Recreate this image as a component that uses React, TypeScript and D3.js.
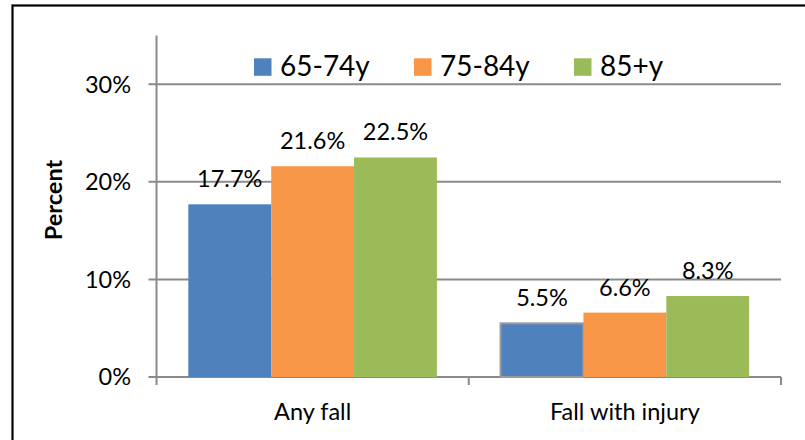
import React from "react";
import * as d3 from "d3";

const categories = ["Any fall", "Fall with injury"];
const seriesNames = ["65-74y", "75-84y", "85+y"];
const seriesColors = ["#4F81BD", "#F79646", "#9BBB59"];
const values65 = [0.177, 0.055];
const values75 = [0.216, 0.066];
const values85 = [0.225, 0.083];
const yTicks = [0, 0.1, 0.2, 0.3];
const yMax = 0.35;

const seriesValues = [values65, values75, values85];

const W = 805;
const H = 440;
const FONT = "Lato, 'Open Sans', sans-serif";

export default function App() {
  const plotLeft = 156.5;
  const plotRight = 781;
  const plotBottom = 377;
  const plotTop = 35.5;

  const x0 = d3.scaleBand<string>().domain(categories).range([plotLeft, plotRight]).padding(0);
  const x1 = d3
    .scaleBand<string>()
    .domain(seriesNames)
    .range([0, x0.bandwidth()])
    .paddingInner(0)
    .paddingOuter(0.384);
  const y = d3.scaleLinear().domain([0, yMax]).range([plotBottom, plotTop]);

  const fmt = d3.format(".0%");
  const fmtLabel = d3.format(".1%");
  const gridColor = "#8a8a8a";

  const legendStart = 254;
  const legendStep = 160;

  return (
    <div style={{ position: "fixed", left: 0, top: 0, width: W, height: H, background: "#fff" }}>
      <svg width={W} height={H} style={{ display: "block" }}>
        <rect x={0} y={0} width={W} height={H} fill="#fff" />
        {/* outer frame */}
        <rect x={12.5} y={5.5} width={W + 20} height={H + 20} fill="none" stroke="#000" strokeWidth={2.2} />

        {/* gridlines */}
        {yTicks.map((t) => (
          <line
            key={"g" + t}
            x1={plotLeft - 8}
            x2={plotRight}
            y1={y(t)}
            y2={y(t)}
            stroke={gridColor}
            strokeWidth={2}
          />
        ))}

        {/* y axis */}
        <line x1={plotLeft} x2={plotLeft} y1={plotTop} y2={plotBottom + 8} stroke={gridColor} strokeWidth={2} />
        {/* x ticks */}
        {categories.map((c, i) => (
          <line
            key={"xt" + c}
            x1={(x0(c) as number) + x0.bandwidth()}
            x2={(x0(c) as number) + x0.bandwidth()}
            y1={plotBottom}
            y2={plotBottom + 8}
            stroke={gridColor}
            strokeWidth={2}
          />
        ))}

        {/* y tick labels */}
        {yTicks.map((t) => (
          <text
            key={"yl" + t}
            x={131}
            y={y(t)}
            dy="0.35em"
            textAnchor="end"
            fontFamily={FONT}
            fontSize={23.5}
            fill="#000"
          >
            {fmt(t)}
          </text>
        ))}

        {/* y axis title */}
        <text
          transform={`translate(61.5, 200) rotate(-90)`}
          textAnchor="middle"
          fontFamily={FONT}
          fontWeight="bold"
          fontSize={23.5}
          fill="#000"
        >
          Percent
        </text>

        {/* bars */}
        {categories.map((c, ci) =>
          seriesNames.map((s, si) => {
            const v = seriesValues[si][ci];
            const bx = (x0(c) as number) + (x1(s) as number);
            const outlined = ci === 1 && si === 0;
            return (
              <rect
                key={c + s}
                x={bx}
                y={y(v)}
                width={x1.bandwidth()}
                height={plotBottom - y(v)}
                fill={seriesColors[si]}
                stroke={outlined ? "#9a9a9a" : "none"}
                strokeWidth={outlined ? 2 : 0}
              />
            );
          })
        )}

        {/* data labels */}
        {categories.map((c, ci) =>
          seriesNames.map((s, si) => {
            const v = seriesValues[si][ci];
            const cx = (x0(c) as number) + (x1(s) as number) + x1.bandwidth() / 2;
            return (
              <text
                key={"l" + c + s}
                x={cx}
                y={y(v) - 17}
                textAnchor="middle"
                fontFamily={FONT}
                fontSize={23.5}
                fill="#000"
              >
                {fmtLabel(v)}
              </text>
            );
          })
        )}

        {/* category labels */}
        {categories.map((c) => (
          <text
            key={"c" + c}
            x={(x0(c) as number) + x0.bandwidth() / 2}
            y={420}
            textAnchor="middle"
            fontFamily={FONT}
            fontSize={23.5}
            fill="#000"
          >
            {c}
          </text>
        ))}

        {/* legend */}
        {seriesNames.map((s, i) => (
          <g key={"lg" + s} transform={`translate(${legendStart + i * legendStep}, 0)`}>
            <rect x={0} y={58.3} width={17.5} height={17.5} fill={seriesColors[i]} />
            <text x={26} y={75.5} fontFamily={FONT} fontSize={28} fill="#000">
              {s}
            </text>
          </g>
        ))}
      </svg>
    </div>
  );
}
